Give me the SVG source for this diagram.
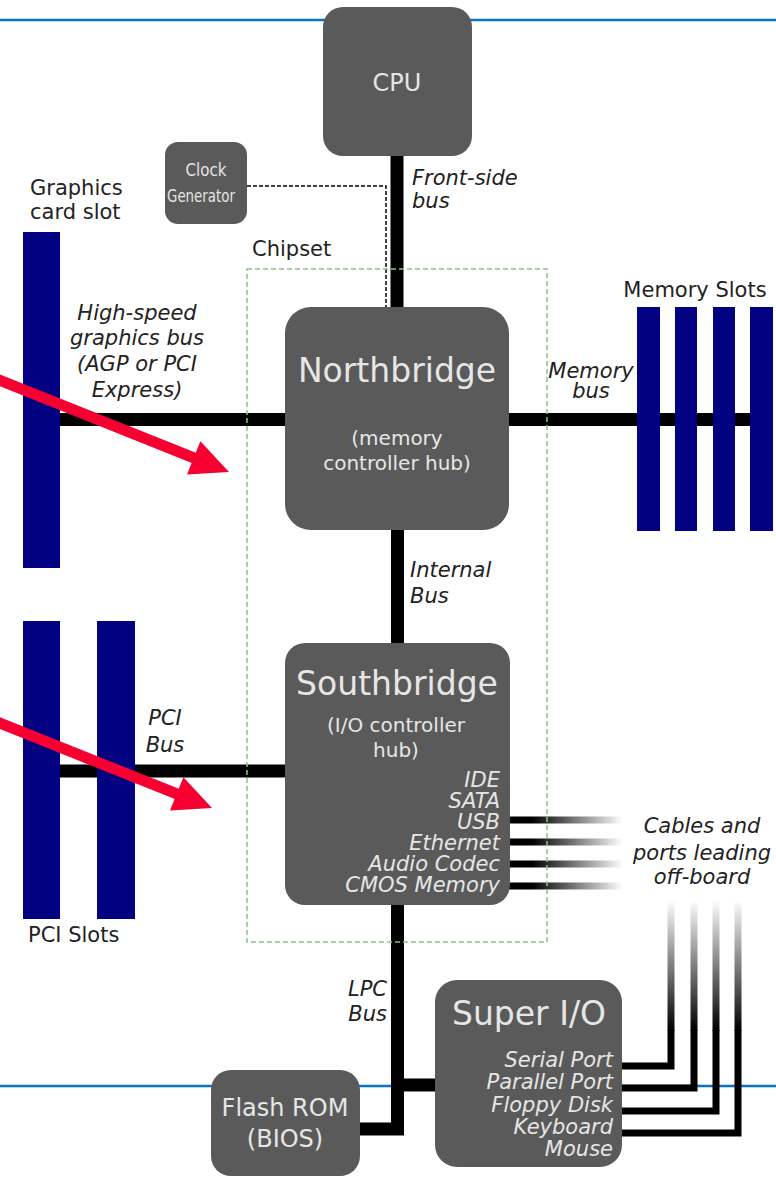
<svg xmlns="http://www.w3.org/2000/svg" width="776" height="1178" viewBox="0 0 776 1178">
<style>
.box{fill:#5a5a5a}
.slot{fill:#000080}
.bus{stroke:#000;stroke-width:13;fill:none}
.wt{fill:#e6e6e6;font-family:"DejaVu Sans","Liberation Sans",sans-serif;text-anchor:middle}
.lb{fill:#222;font-family:"DejaVu Sans","Liberation Sans",sans-serif;font-size:21px}
.it{font-style:italic}
.mid{text-anchor:middle}
.end{text-anchor:end}
.cab{stroke-width:7;fill:none}
.red{fill:#f50031}
</style>
<defs>
<linearGradient id="hfade" gradientUnits="userSpaceOnUse" x1="509" y1="0" x2="623" y2="0">
<stop offset="0" stop-color="#000"/>
<stop offset="0.2" stop-color="#000"/>
<stop offset="1" stop-color="#000" stop-opacity="0"/>
</linearGradient>
<linearGradient id="vfade" gradientUnits="userSpaceOnUse" x1="0" y1="1030" x2="0" y2="900">
<stop offset="0" stop-color="#000"/>
<stop offset="1" stop-color="#000" stop-opacity="0"/>
</linearGradient>
</defs>
<rect width="776" height="1178" fill="#fff"/>
<g id="page-lines" stroke="#0a72c8" stroke-width="2.5">
<line x1="0" y1="20" x2="776" y2="20"/>
<line x1="0" y1="1086" x2="776" y2="1086"/>
</g>
<g id="connectors">
<line class="bus" x1="397" y1="150" x2="397" y2="310" stroke-width="14"/>
<path d="M247 186 H386 V307" fill="none" stroke="#000" stroke-width="1.5" stroke-dasharray="4 2"/>
<line class="bus" x1="59" y1="419.5" x2="290" y2="419.5"/>
<line class="bus" x1="505" y1="419.5" x2="772" y2="419.5"/>
<line class="bus" x1="397.5" y1="525" x2="397.5" y2="648"/>
<line class="bus" x1="59" y1="771" x2="290" y2="771"/>
<path class="bus" d="M397.5 900 V1129 H355"/>
<line class="bus" x1="397.5" y1="1085" x2="440" y2="1085"/>
<g class="cab" stroke="url(#hfade)">
<line x1="505" y1="820" x2="623" y2="820"/>
<line x1="505" y1="842" x2="623" y2="842"/>
<line x1="505" y1="864" x2="623" y2="864"/>
<line x1="505" y1="886" x2="623" y2="886"/>
</g>
<g class="cab" stroke="url(#vfade)">
<line x1="671" y1="900" x2="671" y2="1031"/>
<line x1="694" y1="900" x2="694" y2="1031"/>
<line x1="716" y1="900" x2="716" y2="1031"/>
<line x1="738" y1="900" x2="738" y2="1031"/>
</g>
<g class="cab" stroke="#000">
<path d="M671 1030 V1066 H618"/>
<path d="M694 1030 V1088 H618"/>
<path d="M716 1030 V1111 H618"/>
<path d="M738 1030 V1133 H618"/>
</g>
</g>
<g id="graphics-slot"><rect class="slot" x="23" y="232" width="37" height="336"/></g>
<g id="pci-slots">
<rect class="slot" x="23" y="621" width="37" height="298"/>
<rect class="slot" x="97" y="621" width="38" height="298"/>
</g>
<g id="memory-slots">
<rect class="slot" x="637" y="307" width="23" height="224"/>
<rect class="slot" x="675" y="307" width="22" height="224"/>
<rect class="slot" x="713" y="307" width="22" height="224"/>
<rect class="slot" x="750" y="307" width="23" height="224"/>
</g>
<g id="cpu">
<rect class="box" x="323" y="7" width="149" height="149" rx="20"/>
<text class="wt" x="397" y="91" font-size="24">CPU</text>
</g>
<g id="clock-generator">
<rect class="box" x="165" y="142" width="82" height="82" rx="13"/>
<text class="wt" x="206" y="176" font-size="17" fill="#ddd" textLength="41" lengthAdjust="spacingAndGlyphs">Clock</text>
<text class="wt" x="201" y="202" font-size="17" fill="#ddd" textLength="68" lengthAdjust="spacingAndGlyphs">Generator</text>
</g>
<g id="northbridge">
<rect class="box" x="285" y="307" width="224" height="223" rx="26"/>
<text class="wt" x="397" y="382" font-size="33">Northbridge</text>
<text class="wt" x="397" y="445" font-size="20">(memory</text>
<text class="wt" x="397" y="470" font-size="20">controller hub)</text>
</g>
<g id="southbridge">
<rect class="box" x="285" y="643" width="225" height="262" rx="20"/>
<text class="wt" x="397" y="695" font-size="33">Southbridge</text>
<text class="wt" x="396" y="732" font-size="20">(I/O controller</text>
<text class="wt" x="396" y="757" font-size="20">hub)</text>
<g class="wt it" font-size="21" style="text-anchor:end">
<text x="500" y="787">IDE</text>
<text x="500" y="808">SATA</text>
<text x="500" y="829">USB</text>
<text x="500" y="850">Ethernet</text>
<text x="500" y="871">Audio Codec</text>
<text x="500" y="892">CMOS Memory</text>
</g>
</g>
<g id="super-io">
<rect class="box" x="435" y="980" width="187" height="187" rx="22"/>
<text class="wt" x="529" y="1025" font-size="33">Super I/O</text>
<g class="wt it" font-size="21" style="text-anchor:end">
<text x="613" y="1067">Serial Port</text>
<text x="613" y="1089">Parallel Port</text>
<text x="613" y="1112">Floppy Disk</text>
<text x="613" y="1134">Keyboard</text>
<text x="613" y="1156">Mouse</text>
</g>
</g>
<g id="flash-rom">
<rect class="box" x="211" y="1070" width="149" height="106" rx="20"/>
<text class="wt" x="285" y="1116" font-size="24">Flash ROM</text>
<text class="wt" x="285" y="1147" font-size="24">(BIOS)</text>
</g>
<g id="chipset">
<rect x="247" y="269" width="300" height="673" fill="none" stroke="#8dbf8d" stroke-width="1.5" stroke-dasharray="5 3"/>
<text class="lb" x="252" y="256">Chipset</text>
</g>
<g id="labels">
<text class="lb" x="30" y="195">Graphics</text>
<text class="lb" x="30" y="219">card slot</text>
<text class="lb it" x="412" y="185">Front-side</text>
<text class="lb it" x="412" y="208">bus</text>
<text class="lb mid" x="695" y="297">Memory Slots</text>
<text class="lb it mid" x="137" y="320">High-speed</text>
<text class="lb it mid" x="137" y="345">graphics bus</text>
<text class="lb it mid" x="137" y="371">(AGP or PCI</text>
<text class="lb it mid" x="137" y="397">Express)</text>
<text class="lb it mid" x="591" y="378">Memory</text>
<text class="lb it mid" x="591" y="398">bus</text>
<text class="lb it" x="410" y="577">Internal</text>
<text class="lb it" x="410" y="603">Bus</text>
<text class="lb it mid" x="165" y="725">PCI</text>
<text class="lb it mid" x="165" y="752">Bus</text>
<text class="lb" x="28" y="942">PCI Slots</text>
<text class="lb it mid" x="702" y="833">Cables and</text>
<text class="lb it mid" x="702" y="860">ports leading</text>
<text class="lb it mid" x="702" y="884">off-board</text>
<text class="lb it end" x="387" y="996">LPC</text>
<text class="lb it end" x="387" y="1021">Bus</text>
</g>
<g id="red-arrows">
<line x1="-5" y1="378.4" x2="197" y2="459.2" stroke="#f50031" stroke-width="11"/>
<polygon class="red" points="229,472 200.4,441.2 187,474.6"/>
<line x1="-5" y1="721.2" x2="180" y2="795.2" stroke="#f50031" stroke-width="11"/>
<polygon class="red" points="212,808 183.4,777.2 170,810.6"/>
</g>
</svg>
